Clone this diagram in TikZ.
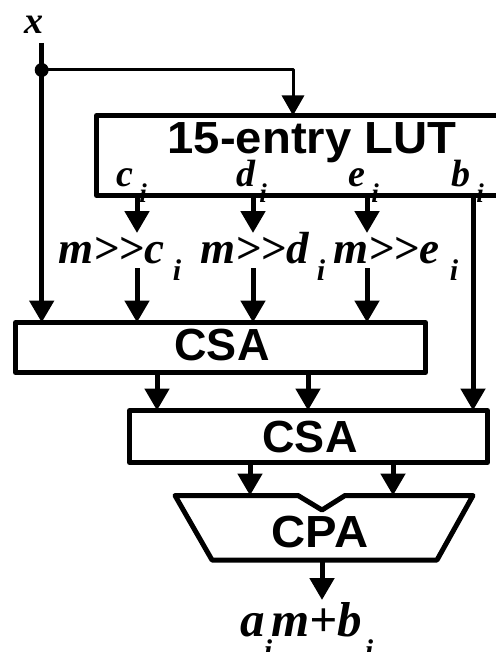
\documentclass[tikz,border=0pt]{standalone}
\usepackage{fontspec}
\setmainfont{Liberation Serif}[Ligatures=NoCommon]
\newfontfamily\hsans{Liberation Sans}
\newfontfamily\hsanswide{Liberation Sans}[FakeStretch=1.05]
\usetikzlibrary{arrows.meta}
\begin{document}
\begin{tikzpicture}[x=1pt,y=-1pt,
  box/.style={draw, line width=5pt, line join=round, inner sep=0pt, outer sep=0pt, anchor=north west},
  arr/.style={line width=5pt, -{Triangle[length=22pt,width=24pt]}},
  thinarr/.style={line width=3pt, line join=round, -{Triangle[length=20pt,width=22pt]}},
  sansl/.style={font=\hsans\bfseries\fontsize{45}{45}\selectfont, inner sep=0pt},
  widel/.style={font=\hsanswide\bfseries\fontsize{45}{45}\selectfont, inner sep=0pt},
  mathl/.style={font=\bfseries\itshape\fontsize{45}{45}\selectfont, inner sep=0pt},
  outl/.style={font=\bfseries\itshape\fontsize{49}{49}\selectfont, inner sep=0pt},
  lutl/.style={font=\bfseries\itshape\fontsize{38}{38}\selectfont, inner sep=0pt},
  subl/.style={font=\bfseries\itshape\fontsize{30}{30}\selectfont, inner sep=0pt},
  subs/.style={font=\bfseries\itshape\fontsize{27}{27}\selectfont, inner sep=0pt}]
\useasboundingbox (0,0) rectangle (495,652);

% boxes
\node[box, minimum width=420pt, minimum height=80pt] (lut) at (96.5,115.5) {};
\node[widel, anchor=base] (luttext) at (312,154) {15-entry LUT};
\node[box, minimum width=410pt, minimum height=50pt] (csa1) at (15.5,322.5) {};
\node[sansl, anchor=base] (csa1t) at (222,360) {CSA};
\node[box, minimum width=358pt, minimum height=52pt] (csa2) at (129.5,410.5) {};
\node[sansl, anchor=base] (csa2t) at (310,452) {CSA};
\draw[line width=5pt, line join=round] (175,495.5) -- (298,495.5) -- (322,510) -- (345,495.5) -- (473,495.5) -- (437,560) -- (212,560) -- cycle;
\coordinate (cpatop) at (0,495.5);
\coordinate (cpabot) at (322,560);
\node[widel, anchor=base] (cpat) at (320,547) {CPA};

% coordinates
\coordinate (xtop) at (41.7,43);
\coordinate (split) at (41.7,70);
\coordinate (lx) at (293,0);
\coordinate (c1) at (137,0);
\coordinate (c2) at (253,0);
\coordinate (c3) at (367,0);
\coordinate (cb) at (473,0);
\coordinate (r1) at (0,233);
\coordinate (r2) at (0,268);
\coordinate (s1) at (157,0);
\coordinate (s2) at (308,0);
\coordinate (p1) at (250,0);
\coordinate (p2) at (393,0);
\coordinate (outtip) at (322,600);

% connectors
\draw[arr] (xtop) -- (xtop |- csa1.north);
\fill (split) circle[radius=7pt];
\draw[thinarr] (split) -| (lx |- lut.north);
\foreach \c in {c1,c2,c3}{
  \draw[arr] (\c |- lut.south) -- (\c |- r1);
  \draw[arr] (\c |- r2) -- (\c |- csa1.north);
}
\draw[arr] (cb |- lut.south) -- (cb |- csa2.north);
\draw[arr] (s1 |- csa1.south) -- (s1 |- csa2.north);
\draw[arr] (s2 |- csa1.south) -- (s2 |- csa2.north);
\draw[arr] (p1 |- csa2.south) -- (p1 |- cpatop);
\draw[arr] (p2 |- csa2.south) -- (p2 |- cpatop);
\draw[arr] (cpabot) -- (outtip);

% labels
\node[lutl, anchor=base] (xl) at (34,34) {x};
\node[lutl, anchor=base] (lc) at (125,187) {c};
\node[subs, anchor=base] (lci) at (143,203) {i};
\node[lutl, anchor=base] (ld) at (246,187) {d};
\node[subs, anchor=base] (ldi) at (263,203) {i};
\node[lutl, anchor=base] (le) at (357,187) {e};
\node[subs, anchor=base] (lei) at (375,203) {i};
\node[lutl, anchor=base] (lb) at (461,187) {b};
\node[subs, anchor=base] (lbi) at (480,203) {i};

\node[mathl, anchor=base west] (mc) at (58,263) {m>{}>c};
\node[subl, anchor=base] (mci) at (177,280) {i};
\node[mathl, anchor=base west] (md) at (200,263) {m>{}>d};
\node[subl, anchor=base] (mdi) at (321,280) {i};
\node[mathl, anchor=base west] (me) at (333,263) {m>{}>e};
\node[subl, anchor=base] (mei) at (454,280) {i};

\node[outl, anchor=base west] (oa) at (240,636) {a};
\node[subl, anchor=base] (oai) at (268,660) {i};
\node[outl, anchor=base west] (omb) at (271,636) {m+b};
\node[subl, anchor=base] (obi) at (369,660) {i};
\end{tikzpicture}
\end{document}
